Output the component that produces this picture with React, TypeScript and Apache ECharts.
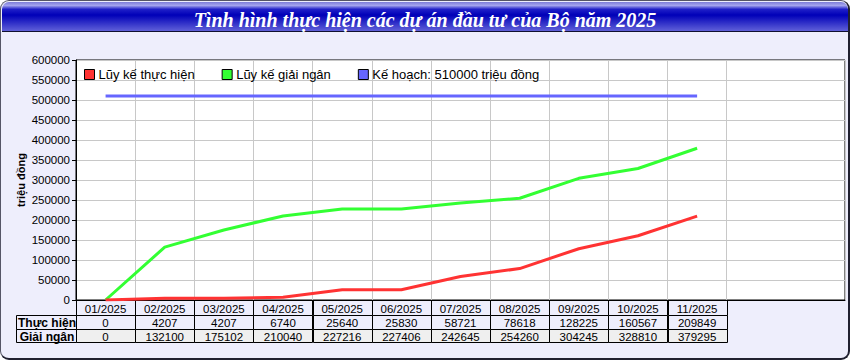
import React, { useEffect, useRef } from "react";
import * as echarts from "echarts";

const titleText = "Tình hình thực hiện các dự án đầu tư của Bộ năm 2025";
const months = ["01/2025", "02/2025", "03/2025", "04/2025", "05/2025", "06/2025", "07/2025", "08/2025", "09/2025", "10/2025", "11/2025"];
const extraSlots = ["", ""];
const thucHien = [0, 4207, 4207, 6740, 25640, 25830, 58721, 78618, 128225, 160567, 209849];
const giaiNgan = [0, 132100, 175102, 210040, 227216, 227406, 242645, 254260, 304245, 328810, 379295];
const keHoach = [510000, 510000, 510000, 510000, 510000, 510000, 510000, 510000, 510000, 510000, 510000];
const seriesNames = ["Lũy kế thực hiện", "Lũy kế giải ngân", "Kế hoạch: 510000 triệu đồng"];
const rowLabels = ["Thực hiện", "Giải ngân"];
const yAxisName = "triệu đồng";

const FONT = "'Liberation Sans', Arial, sans-serif";

export default function App() {
  const ref = useRef<HTMLDivElement>(null);
  useEffect(() => {
    document.body.style.margin = "0";
    const el = ref.current!;
    const chart = echarts.init(el, null, { renderer: "svg" });
    const cats = [...months, ...extraSlots];
    const option: any = {
      animation: false,
      backgroundColor: "transparent",
      textStyle: { fontFamily: FONT },
      title: {
        text: titleText,
        left: "center",
        top: 5,
        textStyle: {
          color: "#ffffff",
          fontFamily: "'Liberation Serif', 'Times New Roman', serif",
          fontStyle: "italic",
          fontWeight: "bold",
          fontSize: 20,
        },
      },
      legend: {
        left: 79,
        top: 63,
        icon: "rect",
        itemWidth: 10,
        itemHeight: 10,
        itemGap: 27,
        textStyle: { fontSize: 13, color: "#000", fontFamily: FONT, padding: [0, 0, 0, -1] },
        itemStyle: { borderColor: "#000", borderWidth: 1 },
        data: seriesNames,
      },
      grid: {
        left: 76,
        right: 5,
        top: 60,
        bottom: 60,
        show: true,
        backgroundColor: "#ffffff",
        borderColor: "#000000",
        borderWidth: 1,
      },
      xAxis: {
        type: "category",
        data: cats,
        boundaryGap: true,
        axisLine: { show: true, lineStyle: { color: "#000" } },
        axisTick: { show: false },
        axisLabel: { show: false },
        splitLine: {
          show: true,
          interval: (i: number) => i > 0 && i < 12,
          lineStyle: { color: "#c8c8c8", width: 1 },
        },
      },
      yAxis: {
        type: "value",
        min: 0,
        max: 600000,
        interval: 50000,
        name: yAxisName,
        nameLocation: "middle",
        nameGap: 50,
        nameMoveOverlap: false,
        nameTextStyle: { fontSize: 11, fontWeight: "bold", color: "#000", fontFamily: FONT },
        axisLine: { show: true, lineStyle: { color: "#000" } },
        axisTick: { show: true, length: 4, lineStyle: { color: "#000" } },
        axisLabel: {
          fontSize: 11.5,
          color: "#000",
          margin: 6,
          fontFamily: FONT,
          formatter: (v: number) => String(v),
        },
        splitLine: { show: true, lineStyle: { color: "#c8c8c8", width: 1 } },
      },
      series: [
        {
          name: seriesNames[0],
          type: "line",
          data: thucHien,
          showSymbol: false,
          symbol: "none",
          color: "#ff3333",
          lineStyle: { width: 3, color: "#ff3333" },
          z: 4,
        },
        {
          name: seriesNames[1],
          type: "line",
          data: giaiNgan,
          showSymbol: false,
          symbol: "none",
          color: "#33ff33",
          lineStyle: { width: 3, color: "#33ff33" },
          z: 3,
        },
        {
          name: seriesNames[2],
          type: "line",
          data: keHoach,
          showSymbol: false,
          symbol: "none",
          color: "#6666ff",
          lineStyle: { width: 3, color: "#6666ff" },
          z: 3,
        },
      ],
    };
    chart.setOption(option);

    const c0 = chart.convertToPixel({ xAxisIndex: 0 }, 0) as number;
    const c1 = chart.convertToPixel({ xAxisIndex: 0 }, 1) as number;
    const w = c1 - c0;
    const yBase = chart.convertToPixel({ yAxisIndex: 0 }, 0) as number;
    const rowH = [15, 14, 13];
    const rowY = [yBase, yBase + rowH[0], yBase + rowH[0] + rowH[1]];
    const labelLeft = 16;
    const gridLeft = c0 - w / 2;
    const els: any[] = [];
    els.push({
      type: "rect",
      z: -5,
      shape: { x: 2, y: 2, width: 846, height: 29, r: [7, 7, 0, 0] },
      style: {
        fill: new echarts.graphic.LinearGradient(0, 0, 0, 1, [
          { offset: 0, color: "#7c7cd8" },
          { offset: 0.12, color: "#a4a4ee" },
          { offset: 0.25, color: "#2020c8" },
          { offset: 0.45, color: "#0000b8" },
          { offset: 1, color: "#6060d8" },
        ]),
      },
      silent: true,
    });
    els.push({
      type: "line",
      z: -4,
      shape: { x1: 2, y1: 31.5, x2: 848, y2: 31.5 },
      style: { stroke: "#101030", lineWidth: 1 },
      silent: true,
    });
    const rows = [months, thucHien.map(String), giaiNgan.map(String)];
    const fills = ["#eeeefc", "#eeeefc", "#efefef"];
    for (let r = 0; r < 3; r++) {
      for (let i = 0; i < months.length; i++) {
        const cx = chart.convertToPixel({ xAxisIndex: 0 }, i) as number;
        els.push({
          type: "rect",
          shape: { x: Math.round(cx - w / 2) + 0.5, y: rowY[r] + 0.5, width: Math.round(w), height: rowH[r] },
          style: { fill: fills[r], stroke: "#000", lineWidth: 1 },
          silent: true,
        });
        els.push({
          type: "text",
          x: cx,
          y: rowY[r] + rowH[r] / 2 + 1,
          style: {
            text: rows[r][i],
            fill: "#000",
            font: `11.5px ${FONT}`,
            align: "center",
            verticalAlign: "middle",
          },
          silent: true,
        });
      }
    }
    for (let r = 1; r < 3; r++) {
      els.push({
        type: "rect",
        shape: { x: labelLeft + 0.5, y: rowY[r] + 0.5, width: Math.round(gridLeft - labelLeft), height: rowH[r] },
        style: { fill: "#eeeefc", stroke: "#000", lineWidth: 1 },
        silent: true,
      });
      els.push({
        type: "text",
        x: (labelLeft + gridLeft) / 2 + 1,
        y: rowY[r] + rowH[r] / 2 + 1,
        style: {
          text: rowLabels[r - 1],
          fill: "#000",
          font: `bold 12px ${FONT}`,
          align: "center",
          verticalAlign: "middle",
        },
        silent: true,
      });
    }
    chart.setOption({ graphic: { elements: els } });
    return () => chart.dispose();
  }, []);
  return (
    <div
      style={{
        position: "absolute",
        left: 0,
        top: 0,
        width: 850,
        height: 360,
        boxSizing: "border-box",
        background: "#eeeefc",
        border: "1px solid #555566",
        borderRightWidth: 2,
        borderBottomWidth: 2,
        borderRightColor: "#202030",
        borderBottomColor: "#202030",
        borderRadius: 9,
        overflow: "hidden",
      }}
    >
      <div ref={ref} style={{ position: "absolute", left: -1, top: -1, width: 850, height: 360 }} />
    </div>
  );
}
